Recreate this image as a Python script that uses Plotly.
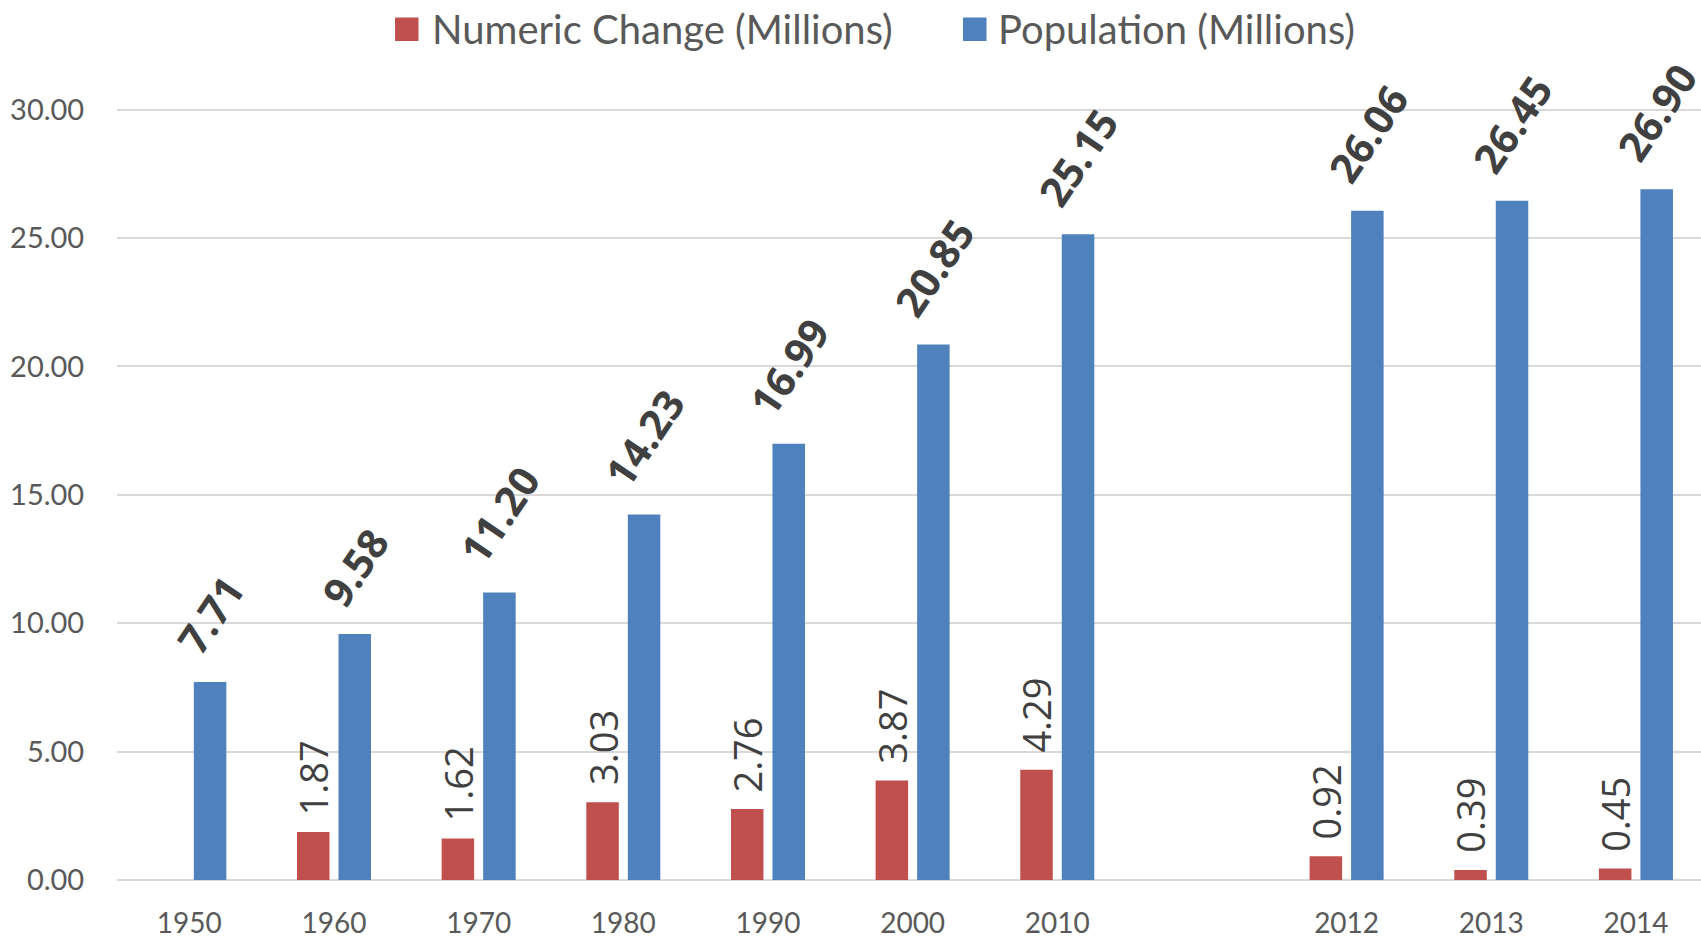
import plotly.graph_objects as go

# ---- data ----
years = ["1950", "1960", "1970", "1980", "1990", "2000", "2010", "2012", "2013", "2014"]
axis_categories = ["1950", "1960", "1970", "1980", "1990", "2000", "2010", "2011", "2012", "2013", "2014"]
numeric_change = [None, 1.87, 1.62, 3.03, 2.76, 3.87, 4.29, 0.92, 0.39, 0.45]
population = [7.71, 9.58, 11.20, 14.23, 16.99, 20.85, 25.15, 26.06, 26.45, 26.90]
y_ticks = [0, 5, 10, 15, 20, 25, 30]
series_names = ["Numeric Change (Millions)", "Population (Millions)"]

# ---- style ----
W, H = 1701, 936
ML, MR, MT, MB = 117, 0, 0, 56
RED = "#C0504D"
BLUE = "#4F81BD"
TICK_COLOR = "#595959"
LABEL_COLOR = "#404040"
GRID = "#D9D9D9"
TICK_FONT = dict(family="Lato", size=28, color=TICK_COLOR)
YTICK_FONT = dict(family="Lato", size=29, color=TICK_COLOR)

fig = go.Figure()
fig.add_bar(x=years, y=numeric_change, name=series_names[0],
            marker=dict(color=RED, line_width=0), showlegend=False)
fig.add_bar(x=years, y=population, name=series_names[1],
            marker=dict(color=BLUE, line_width=0), showlegend=False)

annotations = []
for yr, v in zip(years, numeric_change):
    if v is None:
        continue
    annotations.append(dict(
        x=axis_categories.index(yr), y=v, xref="x", yref="y", text=f"{v:.2f}", textangle=-90,
        xanchor="center", yanchor="bottom", xshift=-21, yshift=15,
        showarrow=False, font=dict(family="Open Sans", size=38, color=LABEL_COLOR)))
for yr, v in zip(years, population):
    annotations.append(dict(
        x=axis_categories.index(yr), y=v, xref="x", yref="y", text=f"<b>{v:.2f}</b>", textangle=-56,
        xanchor="center", yanchor="bottom", xshift=20.5, yshift=15,
        showarrow=False, font=dict(family="Open Sans", size=41, color=LABEL_COLOR)))

# ---- manual legend ----
plot_w = W - ML - MR
plot_h = H - MT - MB
def px(xp):
    return (xp - ML) / plot_w
def py(yp):
    return 1 - (yp - MT) / plot_h

shapes = []
legend_items = [(series_names[0], RED, 395, 430), (series_names[1], BLUE, 963, 996)]
for name, col, sx, tx in legend_items:
    shapes.append(dict(type="rect", xref="paper", yref="paper",
                       x0=px(sx), x1=px(sx + 23.5), y0=py(41), y1=py(17.5),
                       fillcolor=col, line_width=0, layer="above"))
    annotations.append(dict(x=px(tx), y=py(29), xref="paper", yref="paper",
                            text=name, xanchor="left", yanchor="middle",
                            showarrow=False,
                            font=dict(family="Lato", size=40, color=TICK_COLOR)))

px_per_unit = 25.68
fig.update_layout(
    width=W, height=H, autosize=False,
    margin=dict(l=ML, r=MR, t=MT, b=MB, pad=0, autoexpand=False),
    paper_bgcolor="white", plot_bgcolor="white",
    barmode="group", bargap=0.426, bargroupgap=0.217,
    annotations=annotations, shapes=shapes,
    showlegend=False,
    xaxis=dict(type="category", categoryorder="array", categoryarray=axis_categories,
               tickvals=years, ticktext=years, automargin=False,
               range=[-0.5, -0.5 + plot_w / 144.66],
               showgrid=False, showline=False, zeroline=False,
               ticks="outside", ticklen=18, tickcolor="rgba(0,0,0,0)",
               tickfont=TICK_FONT),
    yaxis=dict(range=[0, plot_h / px_per_unit], automargin=False,
               tickvals=y_ticks, ticktext=[f"{v:.2f}" for v in y_ticks],
               showgrid=True, gridcolor=GRID, gridwidth=2,
               zeroline=True, zerolinecolor=GRID, zerolinewidth=2,
               showline=False,
               ticks="outside", ticklen=26, tickcolor="rgba(0,0,0,0)",
               tickfont=YTICK_FONT),
)

fig.write_html("out.html", config={"displayModeBar": False},
               post_script="document.body.style.margin='0px';document.body.style.overflow='hidden';")
